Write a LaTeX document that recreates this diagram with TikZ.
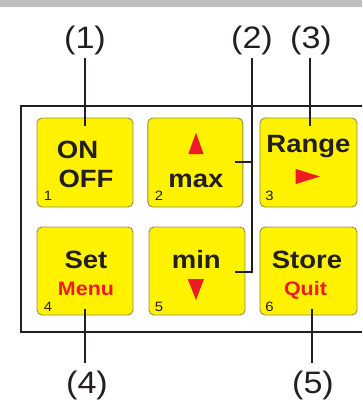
\documentclass[tikz,border=0pt]{standalone}
\usepackage{fontspec}
\setmainfont{Liberation Sans}[FakeStretch=1.1]
\definecolor{ink}{RGB}{35,31,32}
\definecolor{btnfill}{RGB}{255,242,0}
\definecolor{btnedge}{RGB}{150,140,70}
\definecolor{keyred}{RGB}{237,28,36}
\definecolor{topbar}{RGB}{190,190,190}
\begin{document}
\begin{tikzpicture}[x=1pt,y=-1pt,
  keybox/.style={draw=btnedge,line width=0.9pt,fill=btnfill,rounded corners=5pt,inner sep=0pt},
  keytxt/.style={anchor=base,inner sep=0pt,text=ink,font=\fontsize{25}{25}\selectfont\bfseries},
  redtxt/.style={anchor=base,inner sep=0pt,text=keyred,font=\fontsize{19.5}{19.5}\selectfont\bfseries},
  numtxt/.style={anchor=base,inner sep=0pt,text=ink,font=\fontsize{13.5}{13.5}\selectfont},
  calltxt/.style={anchor=base,inner sep=0pt,text=ink,font=\fontsize{31}{31}\selectfont},
  lead/.style={draw=ink,line width=2pt},
  frame/.style={draw=ink,line width=2pt}]
\useasboundingbox (0,0) rectangle (362,401);
\fill[topbar] (0,0) rectangle (362,7);
% frame (open on the right, runs off the picture)
\coordinate (fr1) at (362,106);
\coordinate (fr2) at (362,332);
\coordinate (fl1) at (21,106);
\coordinate (fl2) at (21,332);
\draw[frame] (fl1) -- (fr1);
\draw[frame] (fl2) -- (fr2);
\draw[frame,line cap=rect] (fl1) -- (fl2);
% buttons
\node[keybox,minimum width=96pt,minimum height=89pt] (k1) at (85,162.5) {};
\node[keybox,minimum width=95pt,minimum height=89pt] (k2) at (195.3,162.5) {};
\node[keybox,minimum width=97pt,minimum height=89pt] (k3) at (308.5,162.5) {};
\node[keybox,minimum width=96pt,minimum height=88pt] (k4) at (85,271) {};
\node[keybox,minimum width=96pt,minimum height=88pt] (k5) at (197,271) {};
\node[keybox,minimum width=97pt,minimum height=88pt] (k6) at (308.5,271) {};
% key texts
\node[keytxt] (on) at (77.5,158) {ON};
\node[keytxt] (off) at (86,187.5) {OFF};
\node[keytxt] (max) at (196,187.5) {max};
\node[keytxt] (range) at (308.5,152) {Range};
\node[keytxt] (set) at (86,268) {Set};
\node[redtxt] (menu) at (86,295.5) {Menu};
\node[keytxt] (min) at (196.3,268.5) {min};
\node[keytxt] (store) at (307,268) {Store};
\node[redtxt] (quit) at (305.5,295.5) {Quit};
\fill[keyred] (188.3,154) -- (196,132.7) -- (203.5,154) -- cycle;
\fill[keyred] (295.7,169) -- (320,176.5) -- (295.7,184) -- cycle;
\fill[keyred] (187.7,279) -- (204,279) -- (196,300) -- cycle;
% small numbers
\node[numtxt] (n1) at (48,200) {1};
\node[numtxt] (n2) at (159,200) {2};
\node[numtxt] (n3) at (269.5,200) {3};
\node[numtxt] (n4) at (48,311) {4};
\node[numtxt] (n5) at (159,311) {5};
\node[numtxt] (n6) at (269.5,311) {6};
% callout labels
\node[calltxt] (c1) at (85,49) {(1)};
\node[calltxt] (c2) at (252,49) {(2)};
\node[calltxt] (c3) at (311,49) {(3)};
\node[calltxt] (c4) at (87,393) {(4)};
\node[calltxt] (c5) at (313,393) {(5)};
% leaders
\coordinate (t1) at (85,126);
\coordinate (t3) at (310,126);
\coordinate (t4) at (85,309);
\coordinate (t6) at (312,309);
\coordinate (m2) at (235,162);
\coordinate (m5) at (235,272);
\draw[lead] (85,58) -- (t1);
\draw[lead] (310,58) -- (t3);
\draw[lead] (t4) -- (85,363);
\draw[lead] (t6) -- (312,363);
\draw[lead] (252,58) -- (252,272) -- (m5);
\draw[lead] (m2) -- (252,162);
\end{tikzpicture}
\end{document}
